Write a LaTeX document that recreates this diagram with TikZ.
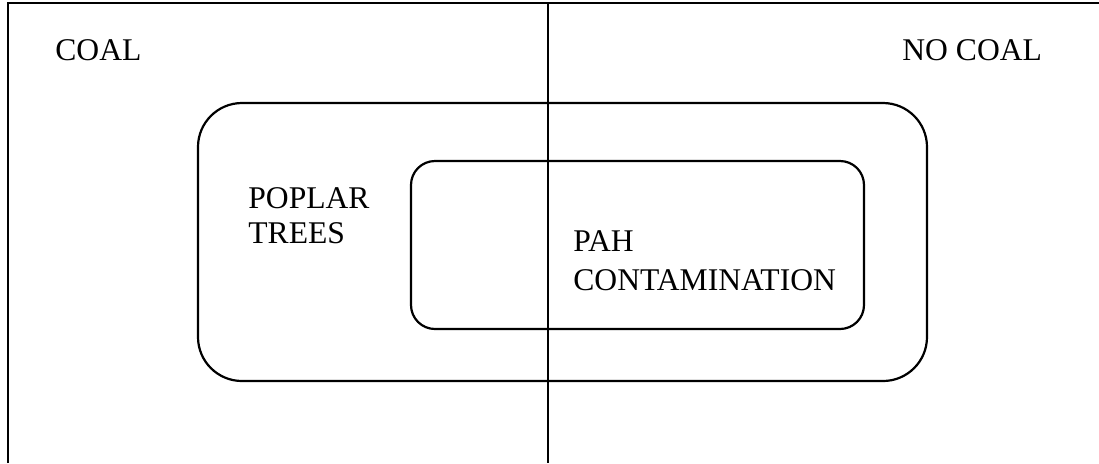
\documentclass[tikz,border=0pt]{standalone}
\usepackage{fontspec}
\setmainfont{Liberation Serif}
\begin{document}
\begin{tikzpicture}[x=0.5pt,y=-0.5pt,font=\fontsize{15.8}{19}\selectfont]
\tikzset{region/.style={draw, line width=1.1pt, inner sep=0pt},
         lbl/.style={anchor=base west, inner sep=0pt, align=left}}
\useasboundingbox (0,0) rectangle (1099,463);
% frame and divider
\coordinate (fbl) at (8,463);
\coordinate (ftl) at (8,3);
\coordinate (ftr) at (1099,3);
\coordinate (dtop) at (548,3);
\coordinate (dbot) at (548,463);
\path[draw,line width=0.8pt] (fbl) -- (ftl) -- (ftr);
\path[draw,line width=0.8pt] (dtop) -- (dbot);
% regions
\node[region, rounded corners=22pt, minimum width=364.5pt, minimum height=139pt] (trees) at (562.5,242) {};
\node[region, rounded corners=12pt, minimum width=226.5pt, minimum height=84pt] (pah) at (637.5,245) {};
% labels
\node[lbl] (coal) at (55,60) {COAL};
\node[lbl] (nocoal) at (902,60) {NO COAL};
\node[lbl] (poplar) at (248,243) {POPLAR\\[-1.5pt]TREES};
\node[lbl] (contam) at (573,290) {PAH\\[0.5pt]CONTAMINATION};
\end{tikzpicture}
\end{document}
